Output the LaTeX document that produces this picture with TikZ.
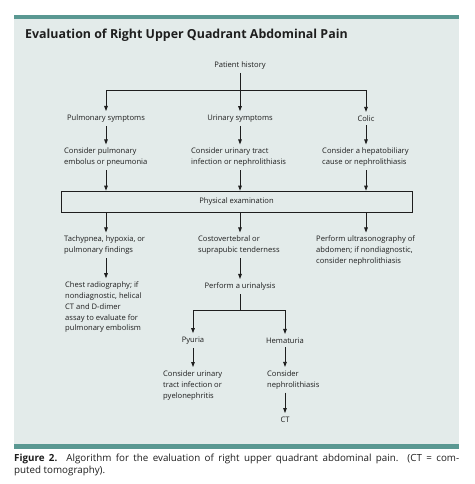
\documentclass[tikz,border=0pt]{standalone}
\usepackage{fontspec}
\setmainfont{Open Sans}
\usetikzlibrary{arrows.meta}
\definecolor{panel}{HTML}{E3EBEA}
\definecolor{teal}{HTML}{5A9892}
\definecolor{ink}{HTML}{1E1E1E}
\tikzset{
  lbl/.style={inner sep=0pt, font=\fontsize{7.6}{10.8}\selectfont, text=ink, yshift=-1.5pt},
  ml/.style={lbl, align=left, anchor=west, yshift=0.7pt},
  arr/.style={line width=0.8pt, draw=ink, -{Triangle[length=5pt,width=3.6pt]}, shorten <=3.5pt, shorten >=3.5pt},
  ln/.style={line width=0.8pt, draw=ink},
}
\begin{document}
\begin{tikzpicture}[x=1pt,y=-1pt]
\useasboundingbox (0,0) rectangle (474,484);
\fill[white] (0,0) rectangle (474,484);
\fill[panel] (14,19) rectangle (459,444);
\fill[teal] (14,15) rectangle (459,19.5);
\fill[teal] (14,443.5) rectangle (459,449);
\node[anchor=west, inner sep=0pt, font=\fontsize{12.4}{15}\selectfont\bfseries, text=ink] (title) at (25,35) {Evaluation of Right Upper Quadrant Abdominal Pain};

\node[lbl] (ph) at (240,64) {Patient history};
\coordinate (j1) at (240,90);
\node[lbl] (pulm) at (106,117) {Pulmonary symptoms};
\node[lbl] (uri) at (240,117) {Urinary symptoms};
\node[lbl] (colic) at (366,117) {Colic};

\node[ml] (cpulm) at (64,156.5) {Consider pulmonary\\embolus or pneumonia};
\node[ml] (curi) at (191,156.5) {Consider urinary tract\\infection or nephrolithiasis};
\node[ml] (chep) at (322,156.5) {Consider a hepatobiliary\\cause or nephrolithiasis};

\node[draw=ink, line width=0.8pt, minimum width=351pt, minimum height=21pt, inner sep=0pt, font=\fontsize{7.6}{10.8}\selectfont, text=ink] (pe) at (236.5,201.5) {Physical examination};

\node[ml] (tach) at (64,244.5) {Tachypnea, hypoxia, or\\pulmonary findings};
\node[ml] (costo) at (198,244.5) {Costovertebral or\\suprapubic tenderness};
\node[ml] (ultra) at (316,250) {Perform ultrasonography of\\abdomen; if nondiagnostic,\\consider nephrolithiasis};

\node[ml] (chest) at (65,306.5) {Chest radiography; if\\nondiagnostic, helical\\CT and D-dimer\\assay to evaluate for\\pulmonary embolism};
\node[lbl] (urin) at (240,285) {Perform a urinalysis};
\coordinate (j2) at (240,310);
\node[lbl] (pyu) at (193,339) {Pyuria};
\node[lbl] (hema) at (285,339) {Hematuria};
\node[ml] (cuti) at (163,384.5) {Consider urinary\\tract infection or\\pyelonephritis};
\node[ml] (cneph) at (267,379) {Consider\\nephrolithiasis};
\node[lbl] (ct) at (285,418) {CT};

% connectors
\draw[ln, shorten <=3.5pt] (ph) -- (j1);
\draw[arr, shorten <=0pt] (j1) -| (pulm);
\draw[arr, shorten <=0pt] (j1) -- (uri);
\draw[arr, shorten <=0pt] (j1) -| (colic);

\draw[arr] (pulm.south) -- (pulm.south |- cpulm.north);
\draw[arr] (uri.south) -- (uri.south |- curi.north);
\draw[arr] (colic.south) -- (colic.south |- chep.north);

\draw[arr, shorten >=0pt] (cpulm.south -| pulm) -- (pe.north -| pulm);
\draw[arr, shorten >=0pt] (curi.south -| uri) -- (pe.north -| uri);
\draw[arr, shorten >=0pt] (chep.south -| colic) -- (pe.north -| colic);

\draw[arr, shorten <=0pt] (pe.south -| pulm) -- (tach.north -| pulm);
\draw[arr, shorten <=0pt] (pe.south -| uri) -- (costo.north -| uri);
\draw[arr, shorten <=0pt] (pe.south -| colic) -- (ultra.north -| colic);

\draw[arr] (tach.south -| pulm) -- (chest.north -| pulm);
\draw[arr] (costo.south -| uri) -- (urin.north);

\draw[ln, shorten <=3.5pt] (urin) -- (j2);
\draw[arr, shorten <=0pt] (j2) -| (pyu);
\draw[arr, shorten <=0pt] (j2) -| (hema);

\draw[arr] (pyu.south) -- (pyu.south |- cuti.north);
\draw[arr] (hema.south) -- (hema.south |- cneph.north);
\draw[arr] (cneph.south -| hema) -- (ct.north);

\node[anchor=north west, inner sep=0pt, text width=445pt, align=justify, font=\fontsize{9.8}{11.5}\selectfont, text=ink] (cap) at (14,454) {\textbf{Figure 2.} Algorithm for the evaluation of right upper quadrant abdominal pain. (CT = com-\linebreak puted tomography).};
\end{tikzpicture}
\end{document}
